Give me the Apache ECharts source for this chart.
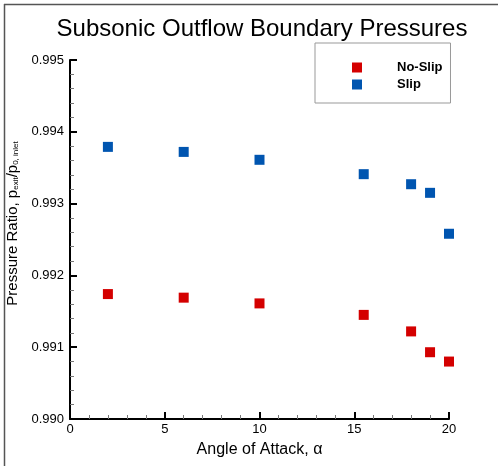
<!DOCTYPE html>
<html>
<head>
<meta charset="utf-8">
<style>
  html, body { margin: 0; padding: 0; background: #fff; }
  #chart { width: 500px; height: 466px; }
</style>
<script src="https://cdn.jsdelivr.net/npm/echarts@6/dist/echarts.min.js"></script>
</head>
<body>
<div id="chart"></div>
<script>
// Angle of attack (deg) for each run
const alpha = [2, 6, 10, 15.5, 18, 19, 20];
// Exit-to-inlet total pressure ratio for each wall condition
const noSlip = [0.99174, 0.99169, 0.99161, 0.99145, 0.99122, 0.99093, 0.99080];
const slip   = [0.99379, 0.99372, 0.99361, 0.99341, 0.99327, 0.99315, 0.99258];
const seriesNames = ['No-Slip', 'Slip'];
const yTicks = { min: 0.990, max: 0.995, step: 0.001 };
const xTicks = { min: 0, max: 20, step: 5 };

const pair = (xs, ys) => xs.map((x, i) => [x, ys[i]]);
const font = '"Liberation Sans", Arial, Helvetica, sans-serif';

const chart = echarts.init(document.getElementById('chart'), null, { renderer: 'canvas' });

chart.setOption({
  animation: false,
  backgroundColor: '#ffffff',
  title: {
    text: 'Subsonic Outflow Boundary Pressures',
    left: 257, top: 12, textAlign: 'center',
    textStyle: { fontFamily: font, fontSize: 24, fontWeight: 'normal', color: '#000' }
  },
  legend: {
    orient: 'vertical',
    left: 315, top: 43,
    width: 141,
    padding: [18, 8, 12, 37],
    borderColor: '#999', borderWidth: 1,
    itemWidth: 10, itemHeight: 10, itemGap: 4,
    data: seriesNames.map(n => ({ name: n, icon: 'rect' })),
    textStyle: { fontFamily: font, fontSize: 13, fontWeight: 'bold', color: '#000', padding: [0, 0, 0, 30] }
  },
  grid: {
    left: 70, right: 51, top: 60, bottom: 47,
    containLabel: false, outerBoundsMode: 'none'
  },
  xAxis: {
    type: 'value',
    min: xTicks.min, max: xTicks.max, interval: xTicks.step,
    name: 'Angle of Attack, α',
    nameLocation: 'middle', nameGap: 23,
    nameTextStyle: { fontFamily: font, fontSize: 16, color: '#000' },
    axisLine: { show: true, onZero: false, lineStyle: { color: '#000', width: 2 } },
    axisTick: { show: true, inside: true, length: 7, lineStyle: { color: '#000', width: 2 } },
    minorTick: { show: true, splitNumber: 5, length: 4, lineStyle: { color: '#777', width: 1 } },
    splitLine: { show: false },
    axisLabel: { fontFamily: font, fontSize: 13, color: '#000', margin: 4 }
  },
  yAxis: {
    type: 'value',
    min: yTicks.min, max: yTicks.max, interval: yTicks.step,
    name: '{m|Pressure Ratio, p}{s|exit}{m|/p}{s|0, inlet}',
    nameLocation: 'middle', nameGap: 50, nameRotate: 90,
    nameTextStyle: {
      padding: [0, 0, 0, 32],
      rich: {
        m: { fontFamily: font, fontSize: 15, color: '#000', verticalAlign: 'bottom', lineHeight: 18 },
        s: { fontFamily: font, fontSize: 8, color: '#000', verticalAlign: 'bottom', lineHeight: 12 }
      }
    },
    axisLine: { show: true, onZero: false, lineStyle: { color: '#000', width: 2 } },
    axisTick: { show: true, inside: true, length: 7, lineStyle: { color: '#000', width: 2 } },
    minorTick: { show: true, splitNumber: 5, length: 4, lineStyle: { color: '#777', width: 1 } },
    splitLine: { show: false },
    axisLabel: {
      fontFamily: font, fontSize: 13, color: '#000', margin: 6,
      formatter: v => v.toFixed(3)
    }
  },
  series: [
    {
      name: seriesNames[0], type: 'scatter',
      symbol: 'rect', symbolSize: 10,
      itemStyle: { color: '#d40000', opacity: 1 },
      data: pair(alpha, noSlip)
    },
    {
      name: seriesNames[1], type: 'scatter',
      symbol: 'rect', symbolSize: 10,
      itemStyle: { color: '#0055b0', opacity: 1 },
      data: pair(alpha, slip)
    }
  ],
  graphic: [
    { type: 'line', shape: { x1: 4, y1: 4.5, x2: 498, y2: 4.5 }, style: { stroke: '#555', lineWidth: 1.5 } },
    { type: 'line', shape: { x1: 4.5, y1: 4, x2: 4.5, y2: 466 }, style: { stroke: '#555', lineWidth: 1.5 } }
  ]
});
</script>
</body>
</html>
